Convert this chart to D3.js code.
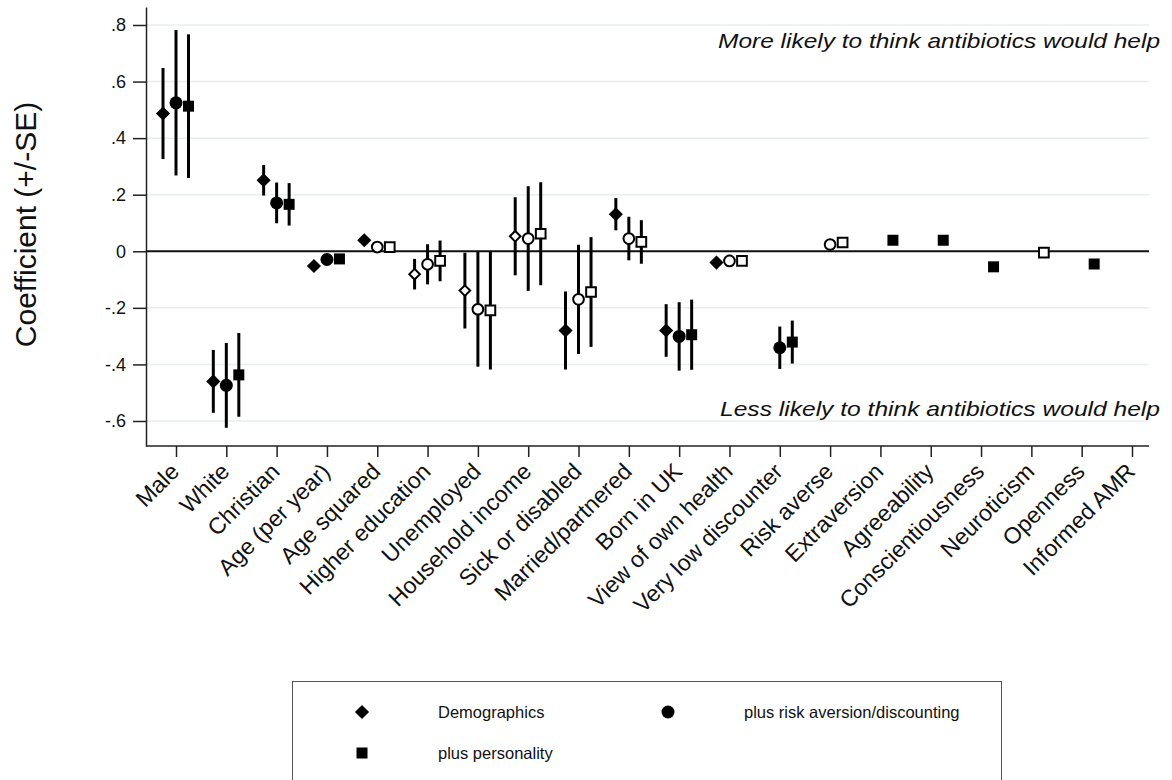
<!DOCTYPE html>
<html>
<head>
<meta charset="utf-8">
<script src="https://cdn.jsdelivr.net/npm/d3@7/dist/d3.min.js"></script>
<style>
    body { margin: 0; background: #fff; }
    svg { display: block; }
    text { font-family: "Liberation Sans", Arial, sans-serif; fill: #111; }
</style>
</head>
<body>
<svg id="chart" width="1172" height="780"></svg>
<script>
// categories along the x axis
const categories = ["Male", "White", "Christian", "Age (per year)", "Age squared", "Higher education",
    "Unemployed", "Household income", "Sick or disabled", "Married/partnered", "Born in UK",
    "View of own health", "Very low discounter", "Risk averse", "Extraversion", "Agreeability",
    "Conscientiousness", "Neuroticism", "Openness", "Informed AMR"];

// model 1: demographics (null = not in model)
const demoCoef   = [0.487, -0.460, 0.251, -0.052, 0.039, -0.081, -0.139, 0.053, -0.280, 0.131, -0.280, -0.040,
                    null, null, null, null, null, null, null, null];
const demoSE     = [0.161, 0.111, 0.054, 0.012, 0.008, 0.054, 0.134, 0.138, 0.138, 0.057, 0.093, 0.010,
                    null, null, null, null, null, null, null, null];
const demoFilled = [1, 1, 1, 1, 1, 0, 0, 0, 1, 1, 1, 1, 0, 0, 0, 0, 0, 0, 0, 0];

// model 2: plus risk aversion / discounting
const riskCoef   = [0.525, -0.474, 0.171, -0.029, 0.015, -0.046, -0.205, 0.045, -0.170, 0.045, -0.301, -0.034,
                    -0.341, 0.024, null, null, null, null, null, null];
const riskSE     = [0.257, 0.150, 0.072, 0.012, 0.005, 0.071, 0.203, 0.185, 0.193, 0.077, 0.121, 0.010,
                    0.075, 0.008, null, null, null, null, null, null];
const riskFilled = [1, 1, 1, 1, 0, 0, 0, 0, 0, 0, 1, 0, 1, 0, 0, 0, 0, 0, 0, 0];

// model 3: plus personality
const persCoef   = [0.513, -0.437, 0.166, -0.027, 0.015, -0.034, -0.209, 0.062, -0.144, 0.033, -0.295, -0.034,
                    -0.321, 0.031, 0.039, 0.039, -0.055, -0.005, -0.045, null];
const persSE     = [0.254, 0.148, 0.075, 0.012, 0.005, 0.072, 0.209, 0.182, 0.194, 0.077, 0.124, 0.010,
                    0.076, 0.008, 0.010, 0.012, 0.010, 0.008, 0.010, null];
const persFilled = [1, 1, 1, 1, 0, 0, 0, 0, 0, 0, 1, 0, 1, 0, 1, 1, 1, 0, 1, 0];

const seriesNames = ["Demographics", "plus risk aversion/discounting", "plus personality"];

const yTicks = [0.8, 0.6, 0.4, 0.2, 0, -0.2, -0.4, -0.6];
const yTickLabels = [".8", ".6", ".4", ".2", "0", "-.2", "-.4", "-.6"];

const topNote = "More likely to think antibiotics would help";
const bottomNote = "Less likely to think antibiotics would help";
const yTitle = "Coefficient (+/-SE)";

// ---- build series ----
function makeSeries(name, shape, offset, coef, se, filled) {
    return {
        name: name, shape: shape, offset: offset,
        points: categories.map((c, i) => ({cat: c, coef: coef[i], se: se[i], filled: !!filled[i]}))
            .filter(d => d.coef !== null)
    };
}
const series = [
    makeSeries(seriesNames[0], 'diamond', -13, demoCoef, demoSE, demoFilled),
    makeSeries(seriesNames[1], 'circle', 0, riskCoef, riskSE, riskFilled),
    makeSeries(seriesNames[2], 'square', 12.5, persCoef, persSE, persFilled)
];

const svg = d3.select('#chart');
const plotLeft = 146, plotRight = 1149, plotTop = 7, plotBottom = 446;

const x = d3.scalePoint().domain(categories).range([176, 1132]);
const y = d3.scaleLinear().domain([-0.6884, 0.8636]).range([plotBottom, plotTop]);

// light grid
svg.append('g')
    .selectAll('line').data(yTicks).join('line')
    .attr('x1', plotLeft).attr('x2', plotRight)
    .attr('y1', d => y(d)).attr('y2', d => y(d))
    .attr('stroke', '#e7eeef').attr('stroke-width', 1.5);

// y axis
const yAxis = svg.append('g')
    .attr('transform', `translate(${plotLeft},0)`)
    .call(d3.axisLeft(y).tickValues(yTicks).tickFormat((d, i) => yTickLabels[i]).tickSize(13).tickPadding(7).tickSizeOuter(0));
yAxis.select('.domain').attr('stroke', '#222').attr('stroke-width', 1.5);
yAxis.selectAll('.tick line').attr('stroke', '#222').attr('stroke-width', 1.5);
yAxis.selectAll('.tick text').style('font-size', '18px').attr('fill', '#111');

// x axis
const xAxis = svg.append('g')
    .attr('transform', `translate(0,${plotBottom})`)
    .call(d3.axisBottom(x).tickSize(11).tickSizeOuter(0));
xAxis.select('.domain').remove();
xAxis.append('line').attr('x1', plotLeft).attr('x2', plotRight).attr('stroke', '#222').attr('stroke-width', 1.5);
xAxis.selectAll('.tick line').attr('stroke', '#222').attr('stroke-width', 1.5);
xAxis.selectAll('.tick text')
    .attr('x', 0).attr('y', 0).attr('dy', 0)
    .attr('text-anchor', 'end')
    .attr('transform', 'translate(4,27) rotate(-45)')
    .style('font-size', '23px').attr('fill', '#111');

// zero line
svg.append('line')
    .attr('x1', plotLeft).attr('x2', plotRight)
    .attr('y1', y(0)).attr('y2', y(0))
    .attr('stroke', '#111').attr('stroke-width', 2);

// y title
svg.append('text')
    .attr('transform', `translate(36,${(102 + 347) / 2}) rotate(-90)`)
    .attr('text-anchor', 'middle')
    .style('font-size', '30px')
    .text(yTitle);

// notes
svg.append('text')
    .attr('x', 718).attr('y', 48)
    .attr('textLength', 442).attr('lengthAdjust', 'spacingAndGlyphs')
    .style('font-size', '21px').style('font-style', 'italic')
    .text(topNote);
svg.append('text')
    .attr('x', 720).attr('y', 416)
    .attr('textLength', 440).attr('lengthAdjust', 'spacingAndGlyphs')
    .style('font-size', '21px').style('font-style', 'italic')
    .text(bottomNote);

// marker shapes
function symbolPath(shape, filled) {
    if (shape === 'diamond') return d3.symbol(d3.symbolSquare, filled ? 100 : 56)();
    if (shape === 'square') return d3.symbol(d3.symbolSquare, filled ? 121 : 94)();
    return d3.symbol(d3.symbolCircle, filled ? 133 : 90)();
}

series.forEach(s => {
    const g = svg.append('g').attr('class', 'series');
    const px = d => x(d.cat) + s.offset;

    g.selectAll('line.err').data(s.points).join('line')
        .attr('class', 'err')
        .attr('x1', px).attr('x2', px)
        .attr('y1', d => y(d.coef + d.se)).attr('y2', d => y(d.coef - d.se))
        .attr('stroke', '#000').attr('stroke-width', 3);

    g.selectAll('path.mark').data(s.points).join('path')
        .attr('class', 'mark')
        .attr('d', d => symbolPath(s.shape, d.filled))
        .attr('transform', d => `translate(${px(d)},${y(d.coef)})` + (s.shape === 'diamond' ? ' rotate(45)' : ''))
        .attr('fill', d => d.filled ? '#000' : '#fff')
        .attr('stroke', '#000')
        .attr('stroke-width', d => d.filled ? 0 : 2);
});

// legend
const legend = svg.append('g');
legend.append('rect')
    .attr('x', 292.5).attr('y', 681.5).attr('width', 709).attr('height', 120)
    .attr('fill', 'none').attr('stroke', '#555').attr('stroke-width', 1);

const legendPos = [[362, 712], [668, 712], [362, 753]];
series.forEach((s, i) => {
    const p = legendPos[i];
    legend.append('path')
        .attr('d', symbolPath(s.shape, true))
        .attr('transform', `translate(${p[0]},${p[1]})` + (s.shape === 'diamond' ? ' rotate(45)' : ''))
        .attr('fill', '#000');
    legend.append('text')
        .attr('x', p[0] + 76).attr('y', p[1] + 6)
        .style('font-size', '16.5px')
        .text(s.name);
});
</script>
</body>
</html>
